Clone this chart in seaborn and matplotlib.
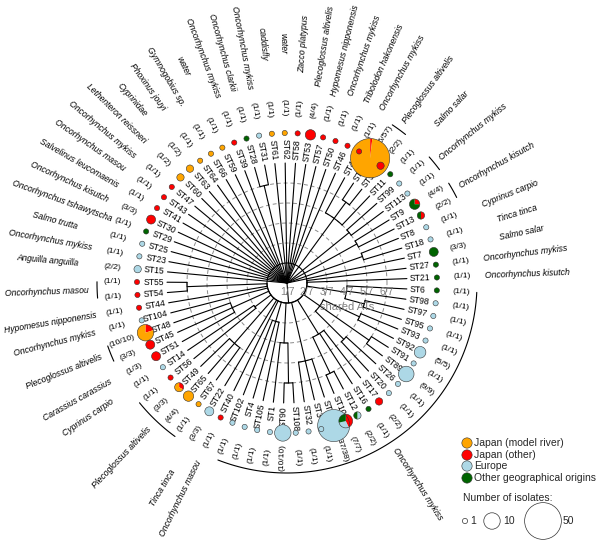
import numpy as np
import matplotlib
matplotlib.use("Agg")
import matplotlib.pyplot as plt
from matplotlib.patches import Wedge, Circle
import seaborn as sns

# leaves of the tree, clockwise from the left
st_names = ["ST15", "ST23", "ST25", "ST29", "ST30", "ST41", "ST43", "ST47", "ST60", "ST63",
            "ST64", "ST66", "ST59", "ST39", "ST28", "ST31", "ST61", "ST62", "ST58", "ST53",
            "ST57", "ST50", "ST46", "ST42", "ST52", "ST5", "ST11", "ST99", "ST113", "ST9",
            "ST13", "ST8", "ST18", "ST7", "ST27", "ST21", "ST6", "ST98", "ST97", "ST95",
            "ST93", "ST92", "ST91", "ST89", "ST26", "ST20", "ST17", "ST16", "ST12", "ST10",
            "ST2", "ST3", "ST32", "ST108", "ST90", "ST1", "ST105", "ST4", "ST102", "ST40",
            "ST22", "ST67", "ST65", "ST49", "ST56", "ST14", "ST51", "ST45", "ST48", "ST104",
            "ST44", "ST54", "ST55"]

# isolates per origin for each ST
n_red = {"ST30": 3, "ST41": 1, "ST43": 1, "ST47": 1, "ST39": 1, "ST58": 1, "ST53": 4, "ST57": 1,
         "ST50": 1, "ST46": 1, "ST42": 1, "ST52": 1, "ST5": 2, "ST9": 1, "ST13": 1, "ST17": 2,
         "ST10": 3, "ST40": 1, "ST49": 1, "ST56": 1, "ST51": 3, "ST45": 3, "ST48": 2, "ST44": 1,
         "ST54": 1, "ST55": 1}
n_orange = {"ST60": 2, "ST63": 2, "ST64": 1, "ST66": 1, "ST59": 1, "ST61": 1, "ST62": 1,
            "ST52": 56, "ST67": 1, "ST65": 4, "ST49": 2, "ST48": 8}
n_blue = {"ST15": 2, "ST23": 1, "ST25": 1, "ST31": 1, "ST99": 1, "ST113": 1, "ST8": 1, "ST18": 1,
          "ST98": 1, "ST97": 1, "ST95": 1, "ST93": 1, "ST92": 5, "ST91": 1, "ST89": 9, "ST26": 1,
          "ST20": 1, "ST12": 1, "ST10": 2, "ST2": 38, "ST3": 1, "ST32": 1, "ST108": 1, "ST90": 10,
          "ST1": 1, "ST105": 1, "ST4": 1, "ST102": 1, "ST22": 3, "ST14": 1, "ST104": 1}
n_green = {"ST29": 1, "ST28": 1, "ST11": 1, "ST9": 3, "ST13": 1, "ST7": 3, "ST27": 1, "ST21": 1,
           "ST6": 1, "ST16": 1, "ST12": 1, "ST10": 2}

count_labels = ["(2/2)", "(1/1)", "(1/1)", "(1/1)", "(3/3)", "(1/1)", "(1/1)", "(1/1)", "(1/2)", "(1/2)",
                "(1/1)", "(1/1)", "(1/1)", "(1/1)", "(1/1)", "(1/1)", "(1/1)", "(1/1)", "(1/1)", "(4/4)",
                "(1/1)", "(1/1)", "(1/1)", "(1/1)", "(56/57)", "(2/2)", "(1/1)", "(1/1)", "(1/1)", "(4/4)",
                "(2/2)", "(1/1)", "(1/1)", "(3/3)", "(1/1)", "(1/1)", "(1/1)", "(1/1)", "(1/1)", "(1/1)",
                "(1/1)", "(5/5)", "(1/1)", "(9/9)", "(1/1)", "(1/1)", "(2/2)", "(1/1)", "(2/2)", "(7/7)",
                "(37/38)", "(1/1)", "(1/1)", "(1/1)", "(10/10)", "(1/1)", "(1/1)", "(1/1)", "(1/1)", "(1/1)",
                "(3/3)", "(1/1)", "(4/4)", "(3/3)", "(1/1)", "(1/1)", "(1/3)", "(3/3)", "(10/10)", "(1/1)",
                "(1/1)", "(1/1)", "(1/1)"]

# host species, with first and last ST of each group
hosts = ["Anguilla anguilla", "Oncorhynchus mykiss", "Salmo trutta", "Oncorhynchus tshawytscha",
         "Oncorhynchus kisutch", "Salvelinus leucomaenis", "Oncorhynchus masou", "Oncorhynchus mykiss",
         "Lethenteron reissneri", "Cyprinidae", "Phoxinus jouyi", "Gymnogobius sp.", "water",
         "Oncorhynchus mykiss", "Oncorhynchus clarkii", "Oncorhynchus mykiss", "caddisfly", "water",
         "Zacco platypus", "Plecoglossus altivelis", "Hypomesus nipponensis", "Oncorhynchus mykiss",
         "Tribolodon hakonensis", "Oncorhynchus mykiss", "Plecoglossus altivelis", "Salmo salar",
         "Oncorhynchus mykiss", "Oncorhynchus kisutch", "Cyprinus carpio", "Tinca tinca", "Salmo salar",
         "Oncorhynchus mykiss", "Oncorhynchus kisutch", "Oncorhynchus mykiss", "Oncorhynchus masou",
         "Tinca tinca", "Plecoglossus altivelis", "Cyprinus carpio", "Carassius carassius",
         "Plecoglossus altivelis", "Oncorhynchus mykiss", "Hypomesus nipponensis", "Oncorhynchus masou"]
host_first = ["ST15", "ST23", "ST25", "ST29", "ST30", "ST41", "ST43", "ST47", "ST60", "ST63", "ST64",
              "ST66", "ST59", "ST39", "ST28", "ST31", "ST61", "ST62", "ST58", "ST53", "ST57", "ST50",
              "ST46", "ST42", "ST52", "ST11", "ST99", "ST9", "ST8", "ST18", "ST7", "ST27", "ST21",
              "ST6", "ST40", "ST22", "ST67", "ST14", "ST51", "ST45", "ST104", "ST44", "ST54"]
host_last = ["ST15", "ST23", "ST25", "ST29", "ST30", "ST41", "ST43", "ST47", "ST60", "ST63", "ST64",
             "ST66", "ST59", "ST39", "ST28", "ST31", "ST61", "ST62", "ST58", "ST53", "ST57", "ST50",
             "ST46", "ST42", "ST5", "ST11", "ST113", "ST13", "ST8", "ST18", "ST7", "ST27", "ST21",
             "ST102", "ST40", "ST22", "ST56", "ST14", "ST51", "ST48", "ST104", "ST44", "ST55"]

# tree: (shared ATs level, children)
tree = (1, ["ST15", "ST23", "ST25", "ST29", "ST30", "ST41", "ST43", "ST47", "ST60", "ST63",
            "ST64", "ST66", "ST59", "ST39", (6, ["ST28", "ST31"]), "ST61", "ST62", "ST58", "ST53",
            "ST57", "ST50", "ST46",
            (5, ["ST42", (6, ["ST52", "ST5"]), "ST11"]),
            (5, ["ST99", "ST113"]), (5, ["ST9", "ST13"]), (5, ["ST8", "ST18"]), "ST7",
            (2, ["ST27", "ST21",
                 (4, ["ST6", "ST98", (5, ["ST97", "ST95"])]),
                 (3, [(5, ["ST93", "ST92"]), (6, ["ST91", "ST89"]), (5, ["ST26", "ST20"])]),
                 (4, ["ST17", "ST16", (6, ["ST12", "ST10"])]),
                 (5, ["ST2", "ST3", "ST32"]),
                 (4, [(6, ["ST108", "ST90"]), "ST1"]),
                 (3, ["ST105", "ST4", "ST102"]),
                 "ST40", "ST22",
                 (5, ["ST67", "ST65", "ST49"]),
                 (3, ["ST56", "ST14"]),
                 (4, ["ST51", "ST45", "ST48"]),
                 "ST104", "ST44",
                 (6, ["ST54", "ST55"])])])

level_labels = ["1/7", "2/7", "3/7", "4/7", "5/7", "6/7"]
origins = ["Japan (model river)", "Japan (other)", "Europe", "Other geographical origins"]
colors = ["orange", "red", "lightblue", "darkgreen"]
size_keys = [1, 10, 50]

sns.set_theme(style="white")
plt.rcParams["font.family"] = ["Liberation Sans", "DejaVu Sans"]

fig = plt.figure(figsize=(6, 5.47), dpi=100)
ax = fig.add_axes([0, 0, 1, 1])
ax.set_xlim(0, 600)
ax.set_ylim(0, 547)
ax.axis("off")

cx, cy = 287, 264
step = 20
r_leaf = 120
n = len(st_names)
theta = {s: 174.7 - i * 360.0 / n for i, s in enumerate(st_names)}


def pol(r, a):
    return cx + r * np.cos(np.radians(a)), cy + r * np.sin(np.radians(a))


def radial_text(r, a, s, start=True, **kw):
    x, y = pol(r, a)
    an = (a + 180) % 360 - 180
    if -90 <= an <= 90:
        rot, ha = an, "left"
    else:
        rot, ha = an - 180 if an > 0 else an + 180, "right"
    if not start:
        ha = "center"
    ax.text(x, y, s, rotation=rot, rotation_mode="anchor", ha=ha, va="center", **kw)


def arc(r, a1, a2, **kw):
    t = np.linspace(a1, a2, 100)
    x, y = pol(r, t)
    ax.plot(x, y, **kw)


# reference circles
for k in range(3, 7):
    t = np.linspace(0, 360, 400)
    x, y = pol((k - 1) * step, t)
    ax.plot(x, y, color="#8a8a8a", lw=0.7, ls=(0, (4, 3)), zorder=1)
arc(step, 0, 360, color="black", lw=0.8, zorder=2)
for k, lab in enumerate(level_labels):
    ax.text(cx + k * step, cy - 9, lab, ha="center", va="center", fontsize=7.5, color="#808080")
ax.text(cx + 60, cy - 24, "shared ATs", ha="center", va="center", fontsize=8, color="#808080")


def draw(node):
    level, kids = node
    r = (level - 1) * step
    angs = []
    for c in kids:
        if isinstance(c, str):
            a, rc = theta[c], r_leaf
        else:
            a, rc = draw(c), (c[0] - 1) * step
        x, y = pol(np.array([r, rc]), a)
        ax.plot(x, y, color="black", lw=0.8, zorder=2)
        angs.append(a)
    if r > 0:
        arc(r, min(angs), max(angs), color="black", lw=0.8, zorder=2)
    return (min(angs) + max(angs)) / 2


draw(tree)

# ST labels and counts
for s, lab in zip(st_names, count_labels):
    radial_text(r_leaf + 3, theta[s], s, fontsize=6.2, color="black", zorder=3)
    radial_text(175, theta[s], lab, start=False, fontsize=6, color="black", zorder=3)

# host labels and brackets
for h, f, l in zip(hosts, host_first, host_last):
    a1, a2 = theta[f], theta[l]
    radial_text(240, (a1 + a2) / 2, h, start=False, fontsize=6.2, style="italic", color="black")
    if f != l:
        arc(190, a2, a1, color="black", lw=0.8)

# pies, largest first
tot = {s: n_orange.get(s, 0) + n_red.get(s, 0) + n_blue.get(s, 0) + n_green.get(s, 0) for s in st_names}
for s in sorted(st_names, key=lambda s: -tot[s]):
    x, y = pol(150, theta[s])
    rad = 2.6 * np.sqrt(tot[s])
    parts = [(n_red.get(s, 0), "red"), (n_blue.get(s, 0), "lightblue"),
             (n_green.get(s, 0), "darkgreen"), (n_orange.get(s, 0), "orange")]
    start = 90.0
    for cnt, col in parts:
        if cnt == 0:
            continue
        ext = 360.0 * cnt / tot[s]
        ax.add_patch(Wedge((x, y), rad, start - ext, start, facecolor=col, edgecolor="none", zorder=5))
        start -= ext
    ax.add_patch(Circle((x, y), rad, facecolor="none", edgecolor="#333333", lw=0.4, zorder=6))

# legend
sns.scatterplot(x=[467] * 4, y=[104, 92, 81, 69], hue=origins, palette=colors,
                s=55, edgecolor="#333333", linewidth=0.4, legend=False, ax=ax, zorder=7)
for yy, lab in zip([104, 92, 81, 69], origins):
    ax.text(474, yy, lab, fontsize=7.5, va="center", ha="left")
ax.text(463, 49, "Number of isolates:", fontsize=7.5, va="center", ha="left")
xs = [465, 492, 543]
tx = [470, 503, 563]
for x0, t0, k in zip(xs, tx, size_keys):
    ax.add_patch(Circle((x0, 26), 2.6 * np.sqrt(k), facecolor="white", edgecolor="#333333", lw=0.5))
    ax.text(t0, 26, str(k), fontsize=7.5, va="center", ha="left")

fig.savefig("out.png", dpi=100)
